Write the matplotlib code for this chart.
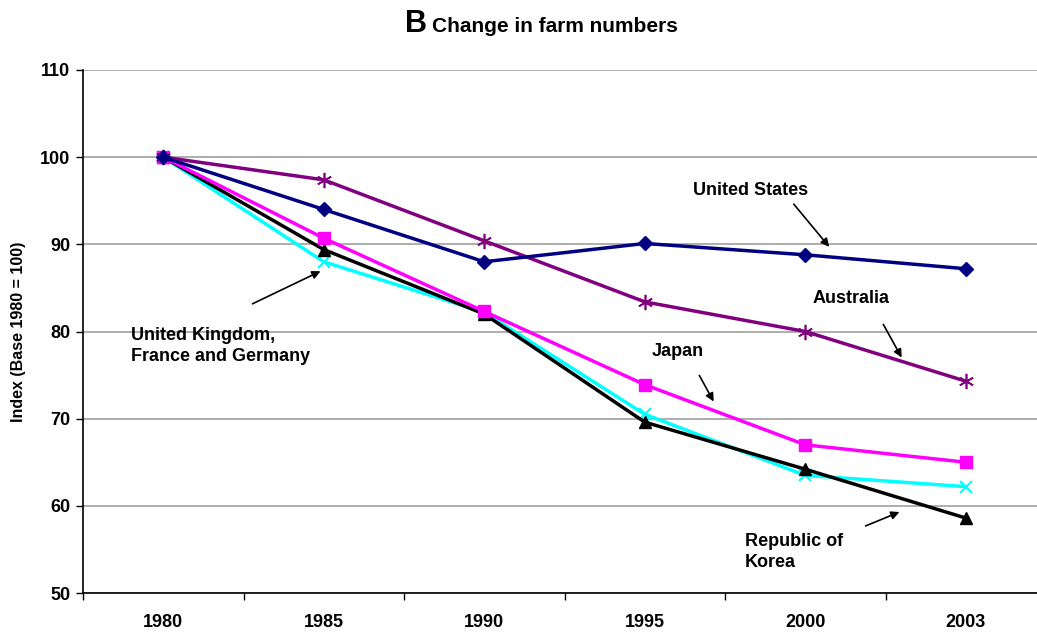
import matplotlib.pyplot as plt
import numpy as np

plt.rcParams['font.family'] = ['Liberation Sans', 'DejaVu Sans']
plt.rcParams['font.weight'] = 'bold'

years = ['1980', '1985', '1990', '1995', '2000', '2003']
united_states = [100, 94.0, 88.0, 90.1, 88.8, 87.2]
australia = [100, 97.4, 90.4, 83.4, 80.0, 74.3]
japan = [100, 90.7, 82.3, 73.9, 67.0, 65.0]
uk_fr_de = [100, 88.0, 82.2, 70.5, 63.5, 62.2]
korea = [100, 89.4, 82.0, 69.6, 64.2, 58.6]

W, H = 1037, 632
fig = plt.figure(figsize=(W / 100, H / 100), dpi=100)
# plot area runs a little past the right edge, like the original
ax = fig.add_axes([83 / W, 1 - 593 / H, 963 / W, 523 / H])

x = np.arange(len(years))
ax.plot(x, uk_fr_de, color='#00FFFF', lw=2.5, marker='x', ms=9, mew=1.5, zorder=3)
ax.plot(x, korea, color='black', lw=2.5, marker='^', ms=8, zorder=4)
ax.plot(x, japan, color='#FF00FF', lw=2.5, marker='s', ms=8, zorder=5)
ax.plot(x, australia, color='#800080', lw=2.5, marker=(6, 2, 0), ms=11, mew=1.2, zorder=6)
ax.plot(x, united_states, color='#000080', lw=2.5, marker='D', ms=7, zorder=7)

ax.set_xlim(-0.5, len(years) - 0.5)
ax.set_ylim(50, 110)
ax.set_yticks(np.arange(50, 111, 10))
ax.yaxis.grid(True, color='#a0a0a0', lw=1.2)
ax.set_axisbelow(True)
ax.set_xticks(x)
ax.set_xticklabels(years, fontsize=13, fontweight='bold')
ax.set_xticks(np.arange(-0.5, len(years), 1), minor=True)
ax.tick_params(axis='x', which='major', length=0, pad=15)
ax.tick_params(axis='x', which='minor', length=5, width=1, direction='out')
ax.tick_params(axis='y', length=5, width=1, labelsize=13, pad=4)
for lab in ax.get_yticklabels():
    lab.set_fontweight('bold')
for s in ['top', 'right']:
    ax.spines[s].set_visible(False)
for s in ['left', 'bottom']:
    ax.spines[s].set_linewidth(1.2)
ax.set_ylabel('Index (Base 1980 = 100)', fontsize=11.5, fontweight='bold', labelpad=10)

fig.text(427 / W, 1 - 24 / H, 'B', fontsize=22, fontweight='bold', ha='right', va='center')
fig.text(432 / W, 1 - 27 / H, 'Change in farm numbers', fontsize=15, fontweight='bold',
         ha='left', va='center')

ann = dict(fontsize=13, fontweight='bold', ha='left', va='center')
arrow = dict(arrowstyle='-|>', color='black', lw=1.2, mutation_scale=12)

def px(xp, yp):
    return (xp / W, 1 - yp / H)

ax.annotate('', xy=px(831, 249), xytext=px(792, 202), xycoords='figure fraction',
            arrowprops=arrow)
fig.text(*px(693, 190), 'United States', **ann)
ax.annotate('', xy=px(903, 360), xytext=px(882, 322), xycoords='figure fraction',
            arrowprops=arrow)
fig.text(*px(813, 298), 'Australia', **ann)
ax.annotate('', xy=px(715, 404), xytext=px(698, 373), xycoords='figure fraction',
            arrowprops=arrow)
fig.text(*px(652, 352), 'Japan', **ann)
ax.annotate('', xy=px(323, 270), xytext=px(250, 305), xycoords='figure fraction',
            arrowprops=arrow)
fig.text(*px(131, 346), 'United Kingdom,\nFrance and Germany', linespacing=1.25, **ann)
ax.annotate('', xy=px(902, 511), xytext=px(863, 527), xycoords='figure fraction',
            arrowprops=arrow)
fig.text(*px(745, 552), 'Republic of\nKorea', linespacing=1.25, **ann)

fig.savefig('out.png', dpi=100)
